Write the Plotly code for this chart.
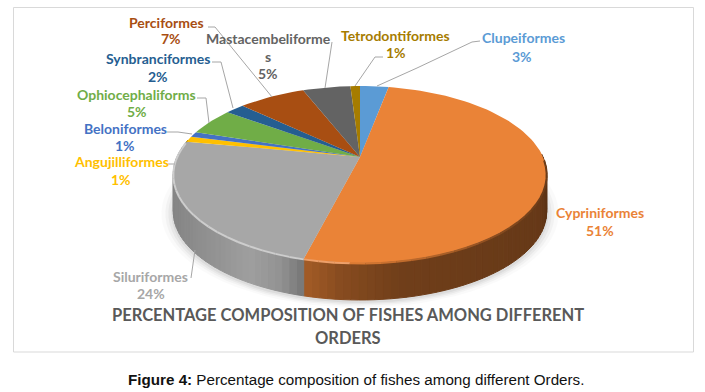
import math
import plotly.graph_objects as go

orders = ["Clupeiformes", "Cypriniformes", "Siluriformes", "Angujilliformes", "Beloniformes",
          "Ophiocephaliforms", "Synbranciformes", "Perciformes", "Mastacembeliformes", "Tetrodontiformes"]
percents = [3, 51, 24, 1, 1, 5, 2, 7, 5, 1]
colors = ["#5B9BD5", "#EA8337", "#A7A7A7", "#FFC000", "#4472C4",
          "#70AD47", "#255E91", "#A84E12", "#636363", "#A67C00"]
title_lines = ["PERCENTAGE COMPOSITION OF FISHES AMONG DIFFERENT", "ORDERS"]

# projection of the pie disc (all in image pixels)
CX, CY, A, B, K, DEPTH = 360, 157, 183, 85, 0.198, 37


def proj(deg, r=1.0):
    t = math.radians(deg)
    X, Y = r * math.sin(t), r * math.cos(t)
    w = 1 + K * Y
    return CX + A * X / w, CY - B * Y / w


def shade(hexc, f):
    return "#%02x%02x%02x" % tuple(
        max(0, min(255, int(int(hexc[i:i + 2], 16) * f))) for i in (1, 3, 5))


def lerp(x, table):
    for (x0, f0), (x1, f1) in zip(table, table[1:]):
        if x <= x1:
            return f0 + (f1 - f0) * (max(x, x0) - x0) / (x1 - x0)
    return table[-1][1]


RIM_GRAY = [(173, 0.80), (250, 0.95), (280, 0.88), (305, 0.70)]
RIM_ORANGE = [(305, 0.70), (340, 0.58), (400, 0.48), (540, 0.44), (548, 0.38)]


def side_factor(x, name):
    return lerp(x, RIM_GRAY if name == "Siluriformes" else RIM_ORANGE)


fig = go.Figure()


def poly(xs, ys, color, opacity=1.0, lw=0):
    fig.add_trace(go.Scatter(x=xs, y=ys, mode="lines", fill="toself", fillcolor=color,
                             line=dict(width=lw, color=color), opacity=opacity,
                             hoverinfo="skip", showlegend=False))


def line(xs, ys, color="#a6a6a6", width=1):
    fig.add_trace(go.Scatter(x=xs, y=ys, mode="lines", line=dict(width=width, color=color),
                             hoverinfo="skip", showlegend=False))


# soft shadow under the pie
for grow, op in ((12, 0.02), (8, 0.03), (5, 0.04), (2, 0.05)):
    pts = [proj(d) for d in range(0, 361, 4)]
    poly([p[0] + (p[0] - CX) * grow / 187 for p in pts],
         [p[1] + DEPTH + 2 + (p[1] - 174) * grow / 187 for p in pts], "#000000", op)

# slice angle ranges
spans, start = [], 0.0
for v in percents:
    spans.append((start, start + v * 3.6))
    start += v * 3.6

# rim
for name, col, (a0, a1) in zip(orders, colors, spans):
    lo, hi = max(a0, 88), min(a1, 282)
    if lo >= hi:
        continue
    n = max(1, int((hi - lo) / 2))
    for i in range(n):
        d0, d1 = lo + (hi - lo) * i / n, min(hi, lo + (hi - lo) * (i + 1) / n)
        p0, p1 = proj(d0), proj(d1)
        f = side_factor((p0[0] + p1[0]) / 2, name)
        poly([p0[0], p1[0], p1[0], p0[0], p0[0]],
             [p0[1], p1[1], p1[1] + DEPTH, p0[1] + DEPTH, p0[1]], shade(col, f), lw=1)

# top face
for col, (a0, a1) in zip(colors, spans):
    n = max(2, int((a1 - a0) / 2))
    pts = [proj(a0 + (a1 - a0) * i / n) for i in range(n + 1)]
    poly([CX] + [p[0] for p in pts] + [CX], [CY] + [p[1] for p in pts] + [CY], col)

# bevel along the front edge: light on the left, dark on the right
for name, col, (a0, a1) in zip(orders, colors, spans):
    lo, hi = max(a0, 92), min(a1, 280)
    if lo >= hi:
        continue
    n = int((hi - lo) / 4) + 1
    for i in range(n):
        p0, p1 = proj(lo + (hi - lo) * i / n), proj(lo + (hi - lo) * (i + 1) / n)
        xm = (p0[0] + p1[0]) / 2
        if name == "Siluriformes":
            c, w = "#cdcdcd", 2
        elif xm < 350:
            c, w = "#eea06a", 2
        else:
            c, w = shade(col, lerp(xm, [(350, 0.95), (450, 0.72), (548, 0.45)])), 2
        line([p0[0], p1[0]], [p0[1] + 0.5, p1[1] + 0.5], c, w)

# leader lines
leaders = [
    ([208, 215, 272], [27, 27, 97]),
    ([332, 325], [42, 88]),
    ([383, 375, 355], [57, 57, 86]),
    ([480, 472, 417, 377], [41, 42, 68, 86]),
    ([212, 221, 233], [62, 62, 108]),
    ([197, 206, 209], [98, 98, 123]),
    ([167, 178, 192], [132, 132, 134]),
    ([168, 175], [164, 164]),
    ([191, 195], [278, 250]),
]
for xs, ys in leaders:
    line(xs, ys)

# data labels: one placement per order
label_pos = {
    "Clupeiformes": (523, 37, 522, 56),
    "Cypriniformes": (600, 212, 600, 230),
    "Siluriformes": (150, 276, 151, 293),
    "Angujilliformes": (121, 161, 121, 179),
    "Beloniformes": (125, 128, 125, 145),
    "Ophiocephaliforms": (136, 94, 137, 111),
    "Synbranciformes": (158, 58, 158, 76),
    "Perciformes": (166, 22, 171, 38),
    "Tetrodontiformes": (395, 35, 396, 52),
}
anns = []


def text(x, y, s, color, size=14, family="Lato", bold=True):
    anns.append(dict(x=x, y=y, xref="x", yref="y", text=f"<b>{s}</b>" if bold else s,
                     showarrow=False, xanchor="center", yanchor="middle",
                     font=dict(family=family, size=size, color=color)))


for name, col, v in zip(orders, colors, percents):
    if name in label_pos:
        x0, y0, x1, y1 = label_pos[name]
        text(x0, y0, name, col)
        text(x1, y1, f"{v}%", col)
    else:
        text(268, 38, name[:-1], col)
        text(268, 56, name[-1], col)
        text(268, 73, f"{v}%", col)

text(348, 315, title_lines[0], "#595959", 16.5, "Lato", True)
text(348, 338, title_lines[1], "#595959", 16.5, "Lato", True)
anns.append(dict(x=356, y=379, xref="x", yref="y", showarrow=False, xanchor="center", yanchor="middle",
                 text="<b>Figure 4:</b> Percentage composition of fishes among different Orders.",
                 font=dict(family="Liberation Sans", size=15.2, color="#111111")))

fig.update_layout(
    width=705, height=392, margin=dict(l=0, r=0, t=0, b=0), autosize=False,
    paper_bgcolor="white", plot_bgcolor="white", showlegend=False, annotations=anns,
    xaxis=dict(range=[0, 705], visible=False, fixedrange=True),
    yaxis=dict(range=[392, 0], visible=False, fixedrange=True),
    shapes=[dict(type="rect", xref="x", yref="y", x0=13.5, x1=693.5, y0=7.5, y1=352,
                 line=dict(color="#d9d9d9", width=1), layer="below")],
)
fig.write_html("out.html", config={"displayModeBar": False},
               post_script="document.body.style.margin='0';document.body.style.overflow='hidden';")
